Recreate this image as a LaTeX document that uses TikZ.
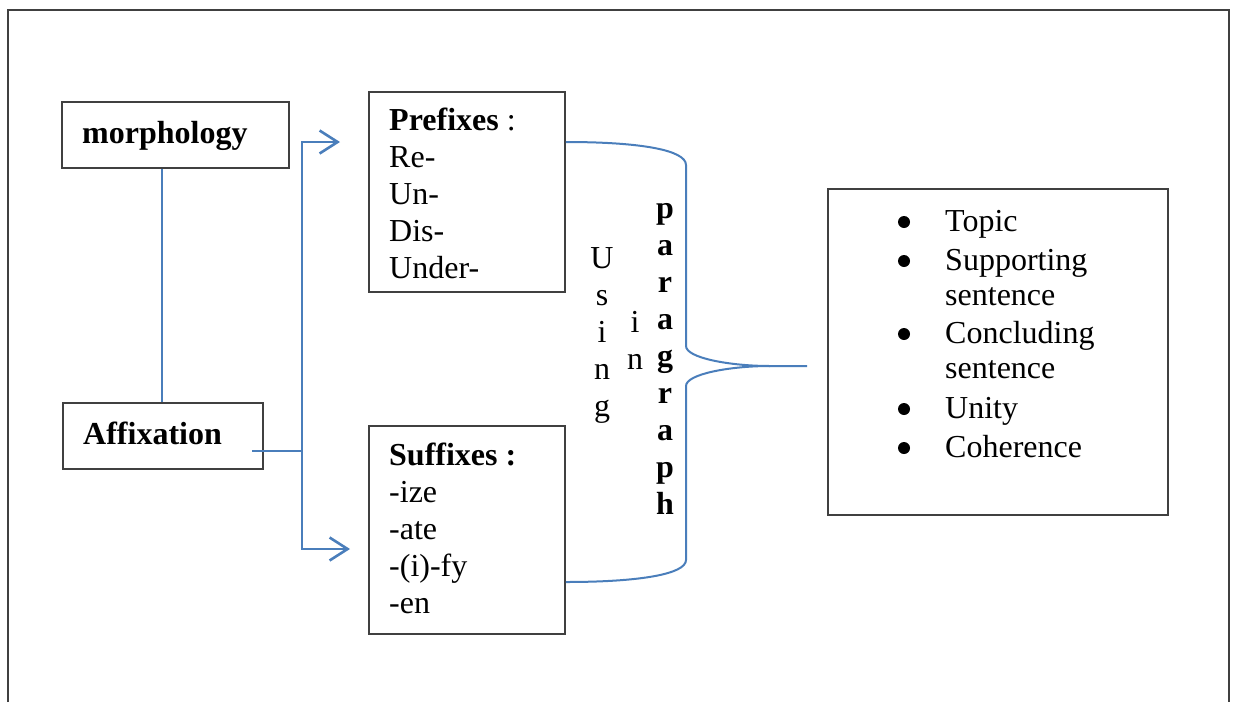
\documentclass[tikz,border=0pt]{standalone}
\usepackage{fontspec}
\setmainfont{Liberation Serif}
\usetikzlibrary{arrows.meta}
\definecolor{wordblue}{HTML}{4A7EBB}
\definecolor{boxgray}{HTML}{404040}
\tikzset{
  box/.style={draw=boxgray, line width=1.8pt, inner sep=0pt, fill=none},
  txt/.style={inner sep=0pt, anchor=base west, font=\fontsize{32}{37}\selectfont},
  ctxt/.style={inner sep=0pt, anchor=base, font=\fontsize{32}{37}\selectfont},
  bul/.style={circle, fill=black, inner sep=0pt, minimum size=12pt},
  conn/.style={draw=wordblue, line width=2pt},
  arr/.style={draw=wordblue, line width=2.6pt, -{Straight Barb[length=18pt, width=23pt, line width=2.6pt]}},
  brace/.style={draw=wordblue, line width=2pt},
  frame/.style={draw=boxgray, line width=2.4pt}
}
\begin{document}
\begin{tikzpicture}[x=1pt, y=-1pt]
\useasboundingbox (0,0) rectangle (1237,702);
% outer frame (open at bottom)
\draw[frame] (8,702) -- (8,10) -- (1229,10) -- (1229,702);

% boxes
\node[box, minimum width=227pt, minimum height=66pt] (morph) at (175.5,135) {};
\node[box, minimum width=200pt, minimum height=66pt] (affix) at (163,436) {};
\node[box, minimum width=196pt, minimum height=200pt] (pre) at (467,192) {};
\node[box, minimum width=196pt, minimum height=208pt] (suf) at (467,530) {};
\node[box, minimum width=340pt, minimum height=326pt] (list) at (998,352) {};

% box texts
\node[txt] (tmorph) at (82,143) {\textbf{morphology}};
\node[txt] (taffix) at (83,444) {\textbf{Affixation}};

\node[txt] (p1) at (389,130) {\textbf{Prefixes} :};
\node[txt] (p2) at (389,167) {Re-};
\node[txt] (p3) at (389,204) {Un-};
\node[txt] (p4) at (389,241) {Dis-};
\node[txt] (p5) at (389,278) {Under-};

\node[txt] (s1) at (389,465) {\textbf{Suffixes :}};
\node[txt] (s2) at (389,502) {-ize};
\node[txt] (s3) at (389,539) {-ate};
\node[txt] (s4) at (389,576) {-(i)-fy};
\node[txt] (s5) at (389,613) {-en};

% vertical words
\foreach \ch [count=\i] in {U,s,i,n,g}
  \node[ctxt] (u\i) at (602,{268+37*(\i-1)}) {\ch};
\foreach \ch [count=\i] in {i,n}
  \node[ctxt] (in\i) at (635,{332+37*(\i-1)}) {\ch};
\foreach \ch [count=\i] in {p,a,r,a,g,r,a,p,h}
  \node[ctxt] (pa\i) at (665,{218+37*(\i-1)}) {\textbf{\ch}};

% bullet list
\node[bul] (b1) at (904,222) {};
\node[bul] (b2) at (904,261) {};
\node[bul] (b3) at (904,334) {};
\node[bul] (b4) at (904,409) {};
\node[bul] (b5) at (904,448) {};
\node[txt] (l1) at (945,231) {Topic};
\node[txt] (l2) at (945,270) {Supporting};
\node[txt] (l3) at (945,305) {sentence};
\node[txt] (l4) at (945,343) {Concluding};
\node[txt] (l5) at (945,378) {sentence};
\node[txt] (l6) at (945,418) {Unity};
\node[txt] (l7) at (945,457) {Coherence};

% morphology -- affixation
\coordinate (jm) at (162,0);
\draw[conn] (morph.south -| jm) -- (affix.north -| jm);

% branching arrows
\coordinate (a0) at (252,451);
\coordinate (jx) at (302,451);
\coordinate (t1) at (340,142);
\coordinate (t2) at (350,549);
\draw[arr, -] (a0) -- (jx);
\draw[arr] (jx) |- (t1);
\draw[arr] (jx) |- (t2);

% brace
\coordinate (bt) at (pre.east |- 0,142);
\coordinate (bb) at (suf.east |- 0,582);
\coordinate (tip) at (770,366);
\coordinate (tipend) at (807,366);
\draw[brace] (bt) .. controls (640,142) and (686,150) .. (686,165)
  -- (686,346) .. controls (686,358) and (730,366) .. (tip) -- (tipend);
\draw[brace] (tip) .. controls (730,366) and (686,374) .. (686,386)
  -- (686,560) .. controls (686,574) and (640,582) .. (bb);
\end{tikzpicture}
\end{document}
